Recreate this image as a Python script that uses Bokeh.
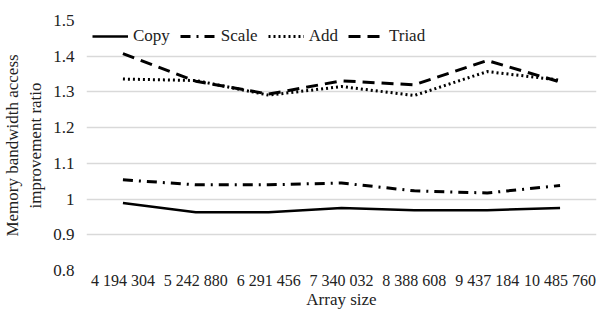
from bokeh.plotting import figure
from bokeh.models import FactorRange, Range1d, FixedTicker, CustomJSTickFormatter, Legend, LegendItem
from bokeh.embed import file_html
from bokeh.resources import INLINE

sizes = ["4 194 304", "5 242 880", "6 291 456", "7 340 032", "8 388 608", "9 437 184", "10 485 760"]
copy_vals = [0.989, 0.963, 0.963, 0.975, 0.969, 0.969, 0.975]
scale_vals = [1.054, 1.040, 1.040, 1.045, 1.023, 1.017, 1.038]
add_vals = [1.336, 1.332, 1.291, 1.315, 1.290, 1.357, 1.333]
triad_vals = [1.407, 1.330, 1.294, 1.331, 1.320, 1.388, 1.328]
y_ticks = [0.8, 0.9, 1.0, 1.1, 1.2, 1.3, 1.4, 1.5]

FONT = "Liberation Serif"

p = figure(width=598, height=311, output_backend="svg", toolbar_location=None,
           x_range=FactorRange(factors=sizes, range_padding=0),
           y_range=Range1d(0.8, 1.5),
           min_border_left=60, min_border_right=2, min_border_top=20, min_border_bottom=10)
p.outline_line_color = None

r_copy = p.line(sizes, copy_vals, line_color="black", line_width=2.5)
r_scale = p.line(sizes, scale_vals, line_color="black", line_width=3, line_dash="10 6 2 6")
r_add = p.line(sizes, add_vals, line_color="black", line_width=3, line_dash="2 3")
r_triad = p.line(sizes, triad_vals, line_color="black", line_width=3, line_dash="12 7")

p.xgrid.grid_line_color = None
p.ygrid.grid_line_color = "#d9d9d9"
p.ygrid.grid_line_width = 1.5
p.yaxis.ticker = FixedTicker(ticks=y_ticks)
p.yaxis.formatter = CustomJSTickFormatter(code="return tick.toFixed(1).replace(/\\.0$/, '');")

for ax in (p.xaxis[0], p.yaxis[0]):
    ax.axis_line_color = None
    ax.major_tick_line_color = None
    ax.minor_tick_line_color = None
    ax.major_tick_out = 0
    ax.major_tick_in = 0
    ax.major_label_text_font = FONT
    ax.major_label_text_color = "#222222"
    ax.axis_label_text_font = FONT
    ax.axis_label_text_font_style = "normal"
    ax.axis_label_text_color = "#222222"

p.yaxis.major_label_text_font_size = "17px"
p.yaxis.major_label_standoff = 12
p.xaxis.major_label_text_font_size = "16px"
p.xaxis.major_label_standoff = 1
p.xaxis.axis_label = "Array size"
p.xaxis.axis_label_text_font_size = "17px"
p.xaxis.axis_label_standoff = -2
p.yaxis.axis_label = "Memory bandwidth access\nimprovement ratio"
p.yaxis.axis_label_text_font_size = "17px"
p.yaxis.axis_label_standoff = 5

legend = Legend(items=[
    LegendItem(label="Copy", renderers=[r_copy]),
    LegendItem(label="Scale", renderers=[r_scale]),
    LegendItem(label="Add", renderers=[r_add]),
    LegendItem(label="Triad", renderers=[r_triad]),
], location="top_left", orientation="horizontal")
legend.background_fill_alpha = 0
legend.border_line_alpha = 0
legend.label_text_font = FONT
legend.label_text_font_size = "17px"
legend.label_text_color = "#222222"
legend.glyph_width = 36
legend.glyph_height = 20
legend.label_standoff = 5
legend.spacing = 10
legend.margin = 4
legend.padding = 2
p.add_layout(legend)

open("out.html", "w").write(file_html(p, INLINE))
